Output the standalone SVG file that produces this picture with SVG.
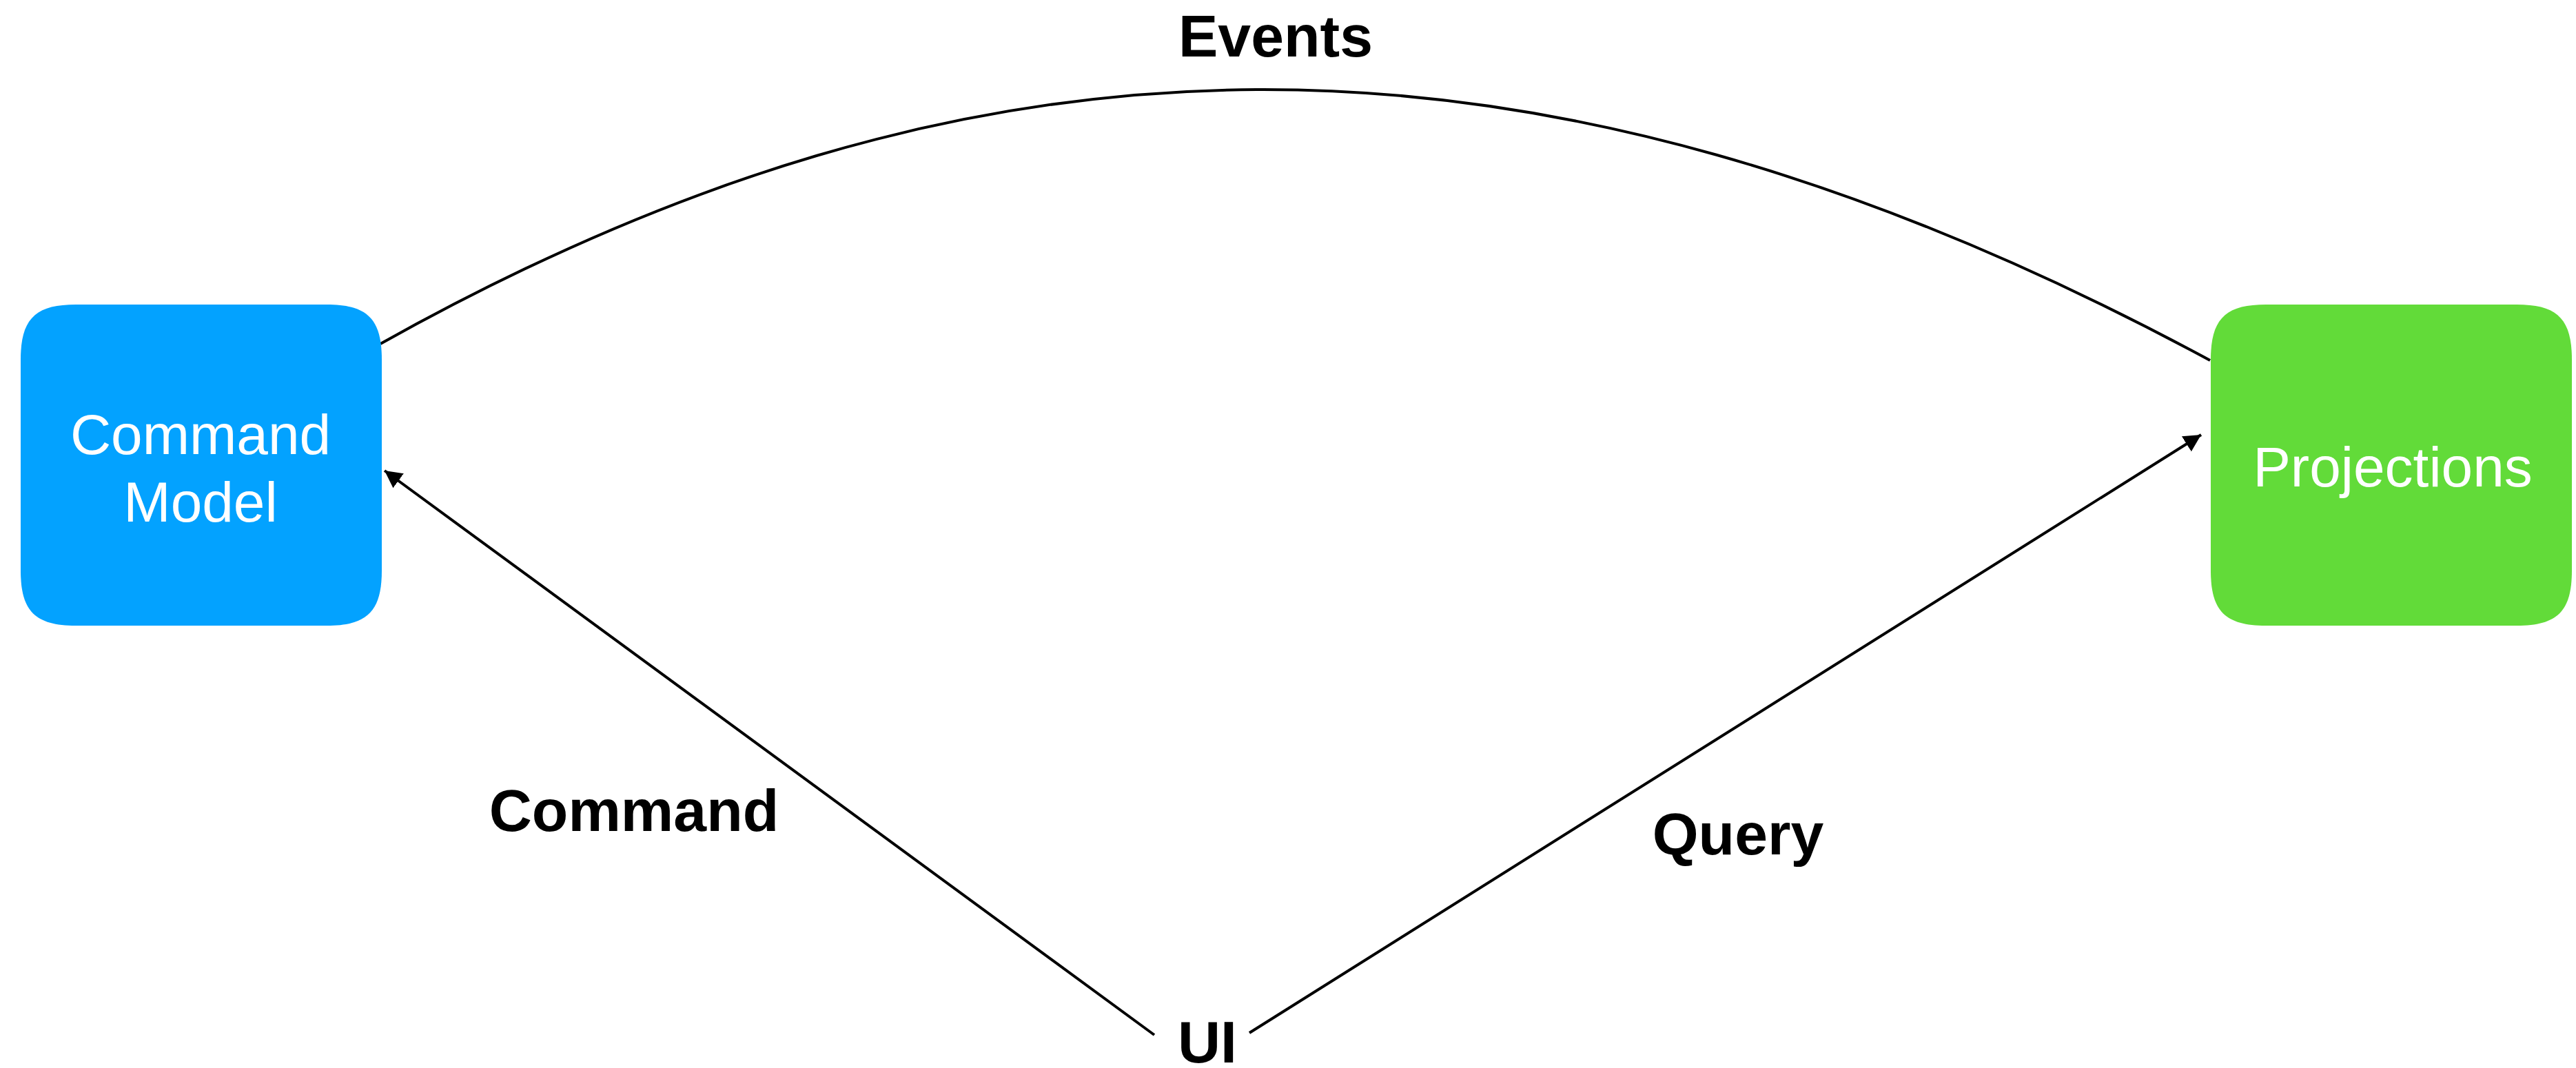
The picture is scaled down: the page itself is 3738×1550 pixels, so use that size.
<svg xmlns="http://www.w3.org/2000/svg" width="3738" height="1550" viewBox="0 0 3738 1550">
<style>
.box-text{font-family:"Liberation Sans",Arial,Helvetica,sans-serif;font-size:82px;fill:#ffffff;text-anchor:middle}
.label{font-family:"Liberation Sans",Arial,Helvetica,sans-serif;font-size:86px;font-weight:bold;fill:#000000;text-anchor:middle}
.conn{fill:none;stroke:#000000;stroke-width:4}
</style>
<defs>
<marker id="arrow" markerUnits="userSpaceOnUse" markerWidth="26" markerHeight="26" refX="25" refY="13" orient="auto">
<path d="M0,0 L25,13 L0,26 Z" fill="#000000"/>
</marker>
</defs>
<rect width="3738" height="1550" fill="#ffffff"/>
<g id="connectors">
<path class="conn" d="M552,499 C1402,23 2207,-17 3207,523"/>
<path class="conn" d="M1675,1502 L558,683" marker-end="url(#arrow)"/>
<path class="conn" d="M1813,1499 L3194,631" marker-end="url(#arrow)"/>
</g>
<g id="command-model">
<path fill="#03A2FF" d="M110,442 H474 C533,442 554,463 554,522 V828 C554,887 533,908 474,908 H110 C51,908 30,887 30,828 V522 C30,463 51,442 110,442 Z"/>
<text class="box-text" x="291" y="659">Command</text>
<text class="box-text" x="291" y="757">Model</text>
</g>
<g id="projections">
<path fill="#62DB39" d="M3288,442 H3652 C3711,442 3732,463 3732,522 V828 C3732,887 3711,908 3652,908 H3288 C3229,908 3208,887 3208,828 V522 C3208,463 3229,442 3288,442 Z"/>
<text class="box-text" x="3472" y="706">Projections</text>
</g>
<g id="ui">
<text class="label" x="1752" y="1542">UI</text>
</g>
<g id="labels">
<text class="label" x="1851" y="82">Events</text>
<text class="label" x="920" y="1206">Command</text>
<text class="label" x="2522" y="1240">Query</text>
</g>
</svg>
